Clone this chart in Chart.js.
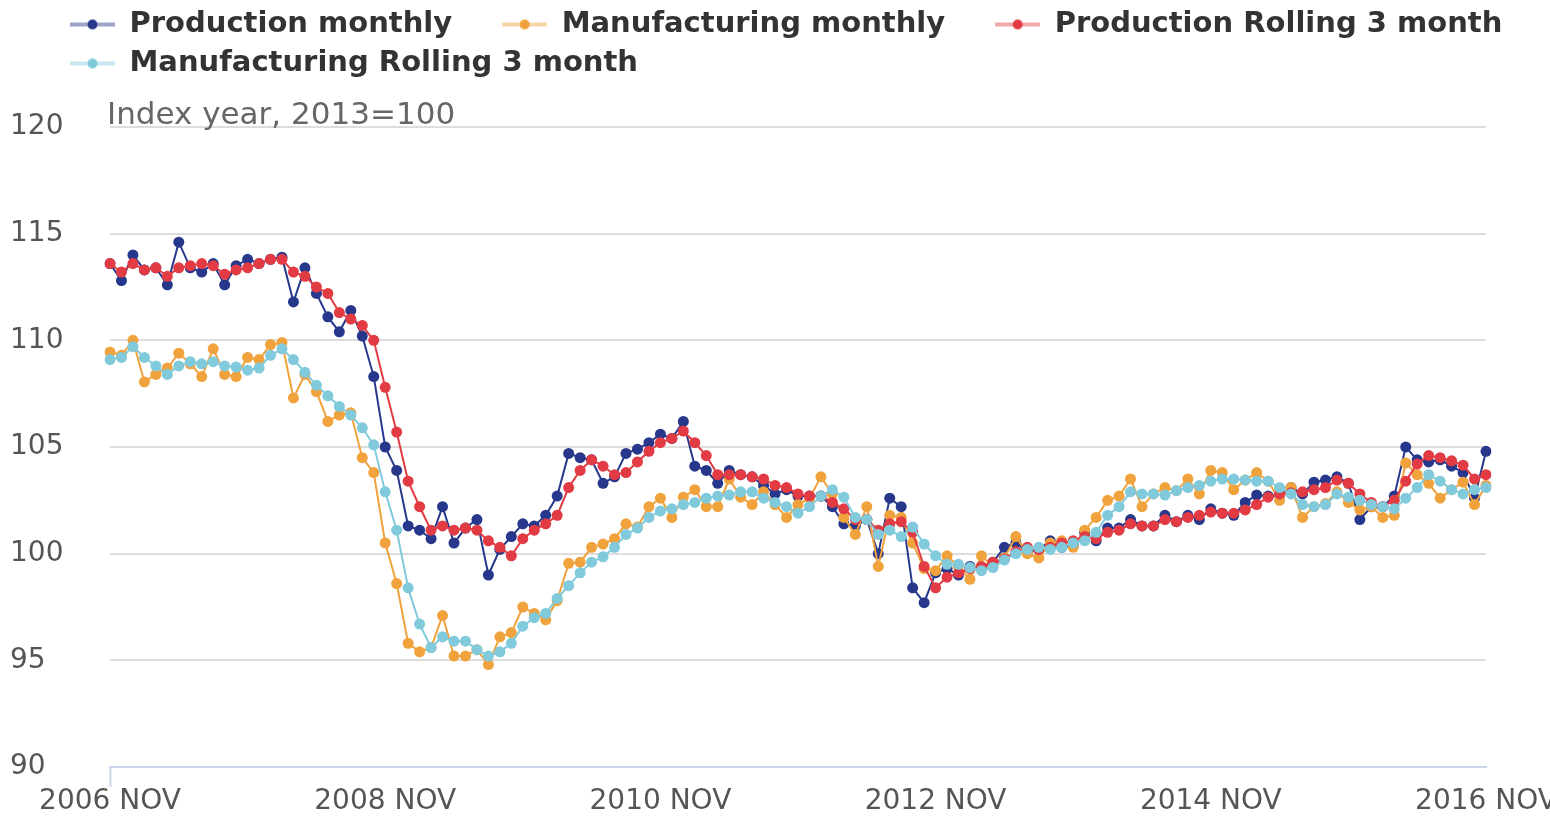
<!DOCTYPE html>
<html>
<head>
<meta charset="utf-8">
<script src="https://cdn.jsdelivr.net/npm/chart.js@4.4.0/dist/chart.umd.min.js"></script>
<style>
  html, body { margin: 0; padding: 0; background: #fff; }
  #wrap { width: 1550px; height: 816px; }
</style>
</head>
<body>
<div id="wrap"><canvas id="myChart" width="1550" height="816"></canvas></div>
<script>
// monthly index values, 2006 NOV .. 2016 NOV (index year 2013 = 100)
const monthNames = ['JAN', 'FEB', 'MAR', 'APR', 'MAY', 'JUN', 'JUL', 'AUG', 'SEP', 'OCT', 'NOV', 'DEC'];
const startYear = 2006;
const startMonth = 10; // NOV
const labelEvery = 24;
const yTicks = [90, 95, 100, 105, 110, 115, 120];
const unitNote = 'Index year, 2013=100';

const prodMonthly = [
  113.6, 112.8, 114.0, 113.3, 113.4, 112.6, 114.6, 113.4, 113.2, 113.6,
  112.6, 113.5, 113.8, 113.6, 113.8, 113.9, 111.8, 113.4, 112.2, 111.1,
  110.4, 111.4, 110.2, 108.3, 105.0, 103.9, 101.3, 101.1, 100.7, 102.2,
  100.5, 101.2, 101.6, 99.0, 100.2, 100.8, 101.4, 101.3, 101.8, 102.7,
  104.7, 104.5, 104.4, 103.3, 103.6, 104.7, 104.9, 105.2, 105.6, 105.4,
  106.2, 104.1, 103.9, 103.3, 103.9, 103.7, 103.6, 103.2, 102.8, 103.0,
  102.7, 102.7, 102.7, 102.2, 101.4, 101.3, 101.6, 100.0, 102.6, 102.2,
  98.4, 97.7, 99.1, 99.3, 99.0, 99.4, 99.3, 99.6, 100.3, 100.5,
  100.1, 100.2, 100.6, 100.3, 100.4, 101.0, 100.6, 101.2, 101.2, 101.6,
  101.3, 101.3, 101.8, 101.5, 101.8, 101.6, 102.1, 101.9, 101.8, 102.4,
  102.75, 102.7, 102.75, 103.1, 102.8, 103.35, 103.45, 103.6, 103.3, 101.6,
  102.2, 102.2, 102.7, 105.0, 104.4, 104.3, 104.4, 104.1, 103.8, 102.6,
  104.8
];
const mfgMonthly = [
  109.45, 109.3, 110.0, 108.05, 108.4, 108.7, 109.4, 108.9, 108.3, 109.6,
  108.4, 108.3, 109.2, 109.1, 109.8, 109.9, 107.3, 108.4, 107.6, 106.2,
  106.5, 106.6, 104.5, 103.8, 100.5, 98.6, 95.8, 95.4, 95.6, 97.1,
  95.2, 95.2, 95.5, 94.8, 96.1, 96.3, 97.5, 97.2, 96.9, 97.8,
  99.55, 99.6, 100.3, 100.45, 100.7, 101.4, 101.25, 102.2, 102.6, 101.7,
  102.65, 103.0, 102.2, 102.2, 103.5, 102.65, 102.3, 102.9, 102.3, 101.7,
  102.3, 102.6, 103.6, 102.8, 101.7, 100.9, 102.2, 99.4, 101.8, 101.7,
  100.5, 99.3, 99.2, 99.9, 99.4, 98.8, 99.9, 99.4, 99.8, 100.8,
  100.0, 99.8, 100.5, 100.6, 100.3, 101.1, 101.7, 102.5, 102.7, 103.5,
  102.2, 102.8, 103.1, 102.95, 103.5, 102.8, 103.9, 103.8, 103.0, 103.45,
  103.8, 103.4, 102.5, 103.1, 101.7, 102.2, 102.35, 102.9, 102.4, 102.05,
  102.2, 101.7, 101.8, 104.25, 103.7, 103.3, 102.6, 103.0, 103.35, 102.3,
  103.2
];
const prodRolling = [
  113.6, 113.2, 113.6, 113.3, 113.4, 113.0, 113.4, 113.5, 113.6, 113.5,
  113.1, 113.3, 113.4, 113.6, 113.8, 113.8, 113.2, 113.0, 112.5, 112.2,
  111.3, 111.0, 110.7, 110.0, 107.8, 105.7, 103.4, 102.2, 101.1, 101.3,
  101.1, 101.2, 101.1, 100.6, 100.3, 99.9, 100.7, 101.1, 101.4, 101.8,
  103.1, 103.9, 104.4, 104.1, 103.7, 103.8, 104.3, 104.8, 105.2, 105.4,
  105.75, 105.2, 104.6, 103.7, 103.7, 103.7, 103.6, 103.5, 103.2, 103.1,
  102.8, 102.7, 102.7, 102.4, 102.1, 101.6, 101.6, 101.1, 101.4, 101.5,
  101.0, 99.4, 98.4, 98.9, 99.1, 99.3, 99.4, 99.6, 99.75, 100.1,
  100.3, 100.2, 100.3, 100.5, 100.6, 100.8, 100.7, 101.0, 101.1, 101.4,
  101.3, 101.3, 101.6, 101.5, 101.7, 101.8, 101.95, 101.9, 101.9, 102.05,
  102.3, 102.65, 102.8, 102.85, 102.9, 103.0, 103.1, 103.45, 103.3, 102.8,
  102.4, 102.2, 102.5, 103.4, 104.2, 104.6, 104.5, 104.35, 104.15, 103.5,
  103.7
];
const mfgRolling = [
  109.1, 109.2, 109.7, 109.2, 108.8, 108.4, 108.8, 109.0, 108.9, 109.0,
  108.8, 108.75, 108.6, 108.7, 109.3, 109.6, 109.1, 108.5, 107.9, 107.4,
  106.9, 106.5, 105.9, 105.1, 102.9, 101.1, 98.4, 96.7, 95.6, 96.1,
  95.9, 95.9, 95.5, 95.2, 95.4, 95.8, 96.6, 97.0, 97.2, 97.9,
  98.5, 99.1, 99.6, 99.85, 100.3, 100.9, 101.2, 101.7, 102.0, 102.1,
  102.3, 102.4, 102.6, 102.7, 102.75, 102.9, 102.9, 102.6, 102.4, 102.2,
  101.9, 102.2, 102.7, 103.0, 102.65, 101.7, 101.6, 100.9, 101.1, 100.8,
  101.25, 100.45, 99.9, 99.5, 99.5, 99.35, 99.2, 99.35, 99.7, 100.0,
  100.2, 100.3, 100.2, 100.3, 100.5, 100.6, 101.0, 101.8, 102.2, 102.9,
  102.8, 102.8, 102.75, 102.95, 103.1, 103.2, 103.4, 103.5, 103.5, 103.45,
  103.4, 103.4, 103.1, 102.8, 102.3, 102.2, 102.3, 102.8, 102.65, 102.5,
  102.3, 102.2, 102.1, 102.6, 103.1, 103.7, 103.4, 103.0, 102.8, 103.0,
  103.1
];

// category labels "2006 NOV" ... "2016 NOV"
const labels = [];
for (let i = 0; i < prodMonthly.length; i++) {
  const m = (startMonth + i) % 12;
  const y = startYear + Math.floor((startMonth + i) / 12);
  labels.push(y + ' ' + monthNames[m]);
}

const colors = ['#27388c', '#f0a23c', '#e23b44', '#80cadb'];
const fadedLine = ['rgba(39,56,140,0.45)', 'rgba(240,162,60,0.45)', 'rgba(226,59,68,0.45)', 'rgba(128,202,219,0.45)'];

// legend symbol: short line with a dot, with empty room on the left for spacing
function makeLegendIcon(i) {
  const c = document.createElement('canvas');
  c.width = 85;
  c.height = 14;
  const g = c.getContext('2d');
  g.strokeStyle = fadedLine[i];
  g.lineWidth = 4;
  g.beginPath();
  g.moveTo(40, 7);
  g.lineTo(85, 7);
  g.stroke();
  g.fillStyle = colors[i];
  g.beginPath();
  g.arc(62.5, 7, 5, 0, Math.PI * 2);
  g.fill();
  return c;
}
const legendIcons = [0, 1, 2, 3].map(makeLegendIcon);

Chart.defaults.font.family = 'DejaVu Sans';

const legendSpace = {
  id: 'legendSpace',
  beforeInit(chart) {
    const fit = chart.legend.fit;
    chart.legend.fit = function () {
      fit.call(this);
      this.height = 127;
    };
  },
  beforeDraw(chart) {
    chart.legend.left = 20;
  }
};

const unitLabel = {
  id: 'unitLabel',
  afterDraw(chart) {
    const ctx = chart.ctx;
    ctx.save();
    ctx.font = '31px "DejaVu Sans"';
    ctx.fillStyle = '#666666';
    ctx.textBaseline = 'alphabetic';
    ctx.textAlign = 'left';
    ctx.fillText(unitNote, chart.chartArea.left - 3, chart.chartArea.top - 3);
    ctx.restore();
  }
};

function series(label, data, i, order) {
  return {
    label: label,
    data: data,
    borderColor: colors[i],
    backgroundColor: colors[i],
    borderWidth: 2,
    pointRadius: 5.5,
    pointBorderWidth: 0,
    pointHoverRadius: 5.5,
    tension: 0,
    order: order
  };
}

const ctx = document.getElementById('myChart').getContext('2d');
const myChart = new Chart(ctx, {
  type: 'line',
  data: {
    labels: labels,
    datasets: [
      series('Production monthly', prodMonthly, 0, 4),
      series('Manufacturing monthly', mfgMonthly, 1, 3),
      series('Production Rolling 3 month', prodRolling, 2, 2),
      series('Manufacturing Rolling 3 month', mfgRolling, 3, 1)
    ]
  },
  options: {
    responsive: false,
    animation: false,
    devicePixelRatio: 1,
    layout: { padding: { left: 10, right: 0, top: 0, bottom: 0 } },
    plugins: {
      tooltip: { enabled: false },
      legend: {
        position: 'top',
        align: 'start',
        labels: {
          usePointStyle: true,
          pointStyleWidth: 85,
          padding: 10,
          color: '#333333',
          font: { size: 29, weight: 'bold' },
          sort: (a, b) => a.datasetIndex - b.datasetIndex,
          generateLabels(chart) {
            const items = Chart.defaults.plugins.legend.labels.generateLabels(chart);
            items.forEach(it => {
              it.pointStyle = legendIcons[it.datasetIndex];
              it.lineWidth = 0;
            });
            return items;
          }
        }
      }
    },
    scales: {
      x: {
        offset: false,
        grid: {
          drawOnChartArea: false,
          drawTicks: true,
          tickLength: 20,
          tickWidth: 2,
          tickColor: c => (c.index % labelEvery === 0 ? '#ccd6eb' : 'rgba(0,0,0,0)')
        },
        border: { display: true, color: '#ccd6eb', width: 2 },
        ticks: {
          autoSkip: false,
          maxRotation: 0,
          minRotation: 0,
          padding: -2,
          color: '#555555',
          font: { size: 28 },
          callback: function (value, index) {
            return index % labelEvery === 0 ? this.getLabelForValue(value) : null;
          }
        },
        afterFit(s) {
          s.paddingLeft = 0;
          s.paddingRight = 64;
          s.height = 49;
        }
      },
      y: {
        min: yTicks[0],
        max: yTicks[yTicks.length - 1],
        grid: { color: '#dddddd', lineWidth: 2, drawTicks: false },
        border: { display: false },
        ticks: {
          stepSize: 5,
          crossAlign: 'far',
          padding: 0,
          color: '#555555',
          font: { size: 28 }
        },
        afterFit(s) {
          s.width = 100;
        }
      }
    }
  },
  plugins: [legendSpace, unitLabel]
});
</script>
</body>
</html>
